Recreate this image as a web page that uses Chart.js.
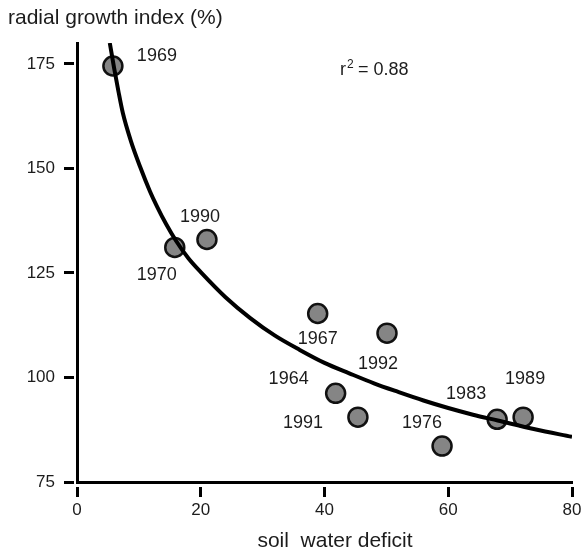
<!DOCTYPE html>
<html>
<head>
<meta charset="utf-8">
<script src="https://cdn.jsdelivr.net/npm/chart.js@4.4.1/dist/chart.umd.min.js"></script>
<style>
    html, body { margin: 0; padding: 0; background: #fff; }
    canvas { display: block; }
</style>
</head>
<body>
<canvas id="graficoCrescimento" width="585" height="553"></canvas>
<script>
// anos observados e seus valores (deficit hidrico x indice de crescimento radial)
const anos = ['1969', '1970', '1990', '1967', '1992', '1964', '1991', '1976', '1983', '1989'];
const deficit = [5.8, 15.8, 21.0, 38.9, 50.1, 41.8, 45.4, 59.0, 67.9, 72.1];
const crescimento = [174.5, 131.1, 133.0, 115.3, 110.6, 96.2, 90.5, 83.6, 90.0, 90.5];

// curva ajustada
const curvaX = [5.3, 6, 6.7, 7.4, 8.7, 10.2, 11.8, 12.9, 14.4, 16, 18, 20, 24, 28, 32, 36, 40, 44, 48, 52, 56, 60, 64, 68, 74, 80];
const curvaY = [180, 174, 168.4, 163.3, 156.6, 150.4, 144.5, 141, 136.7, 132.7, 128.5, 125.2, 119.2, 114.2, 110, 106.6, 103.5, 101, 98.6, 96.5, 94.5, 92.7, 91.1, 89.7, 87.6, 85.8];

const ticksX = [0, 20, 40, 60, 80];
const ticksY = [75, 100, 125, 150, 175];
const r2 = '0.88';

const tituloY = 'radial growth index (%)';
const tituloX = 'soil  water deficit';

const corTexto = '#1c1c1c';
const fonte = '"Liberation Sans", Arial, sans-serif';

// onde fica cada ano em relacao ao ponto (px)
const posicaoRotulo = {
    '1969': [44, -10],
    '1970': [-18, 28],
    '1990': [-7, -22],
    '1967': [0, 26],
    '1992': [-9, 31],
    '1964': [-47, -14],
    '1991': [-55, 6],
    '1976': [-20, -23],
    '1983': [-31, -25],
    '1989': [2, -38]
};

const textos = {
    id: 'textos',
    afterDraw(chart) {
        const ctx = chart.ctx;
        const x = chart.scales.x;
        const y = chart.scales.y;
        ctx.save();
        ctx.fillStyle = corTexto;

        // titulos dos eixos
        ctx.font = '21px ' + fonte;
        ctx.textAlign = 'left';
        ctx.textBaseline = 'middle';
        ctx.fillText(tituloY, 8, 18);
        ctx.textAlign = 'center';
        ctx.fillText(tituloX, 335, 541);

        // rotulos dos anos
        ctx.font = '18px ' + fonte;
        ctx.textAlign = 'center';
        ctx.textBaseline = 'middle';
        anos.forEach((ano, i) => {
            const d = posicaoRotulo[ano] || [0, -20];
            const px = x.getPixelForValue(deficit[i]);
            const py = y.getPixelForValue(crescimento[i]);
            ctx.fillText(ano, px + d[0], py + d[1]);
        });

        // r2
        ctx.textAlign = 'left';
        ctx.textBaseline = 'alphabetic';
        ctx.font = '18px ' + fonte;
        ctx.fillText('r', 340, 75);
        ctx.font = '12px ' + fonte;
        ctx.fillText('2', 347, 68);
        ctx.font = '18px ' + fonte;
        ctx.fillText('= ' + r2, 358, 75);
        ctx.restore();
    }
};

const grafico = new Chart(document.getElementById('graficoCrescimento'), {
    type: 'scatter',
    data: {
        datasets: [{
            label: 'curva',
            data: curvaX.map((v, i) => ({ x: v, y: curvaY[i] })),
            showLine: true,
            borderColor: '#000',
            borderWidth: 4,
            pointRadius: 0,
            cubicInterpolationMode: 'monotone',
            order: 0
        }, {
            label: 'anos',
            data: deficit.map((v, i) => ({ x: v, y: crescimento[i] })),
            backgroundColor: '#858585',
            borderColor: '#111',
            borderWidth: 2.5,
            pointRadius: 9.5,
            order: 1
        }]
    },
    options: {
        responsive: false,
        animation: false,
        layout: { padding: { top: 43, right: 13, left: 0, bottom: 0 } },
        plugins: {
            legend: { display: false },
            tooltip: { enabled: false }
        },
        scales: {
            x: {
                type: 'linear',
                min: 0,
                max: 80,
                afterBuildTicks: (s) => { s.ticks = ticksX.map(v => ({ value: v })); },
                afterFit: (s) => { s.height = 71; },
                border: { display: true, color: '#000', width: 3 },
                grid: {
                    drawOnChartArea: false,
                    drawTicks: true,
                    tickLength: 15,
                    tickWidth: 3,
                    tickColor: '#000',
                    tickBorderDash: [0, 3, 10, 100]
                },
                ticks: {
                    color: corTexto,
                    padding: 3,
                    font: { family: fonte, size: 17 }
                }
            },
            y: {
                type: 'linear',
                min: 75,
                max: 180,
                afterBuildTicks: (s) => { s.ticks = ticksY.map(v => ({ value: v })); },
                afterFit: (s) => { s.width = 77; },
                border: { display: true, color: '#000', width: 3 },
                grid: {
                    drawOnChartArea: false,
                    drawTicks: true,
                    tickLength: 13,
                    tickWidth: 3,
                    tickColor: '#000',
                    tickBorderDash: [10, 100]
                },
                ticks: {
                    color: corTexto,
                    padding: 9,
                    font: { family: fonte, size: 17 }
                }
            }
        }
    },
    plugins: [textos]
});
</script>
</body>
</html>
